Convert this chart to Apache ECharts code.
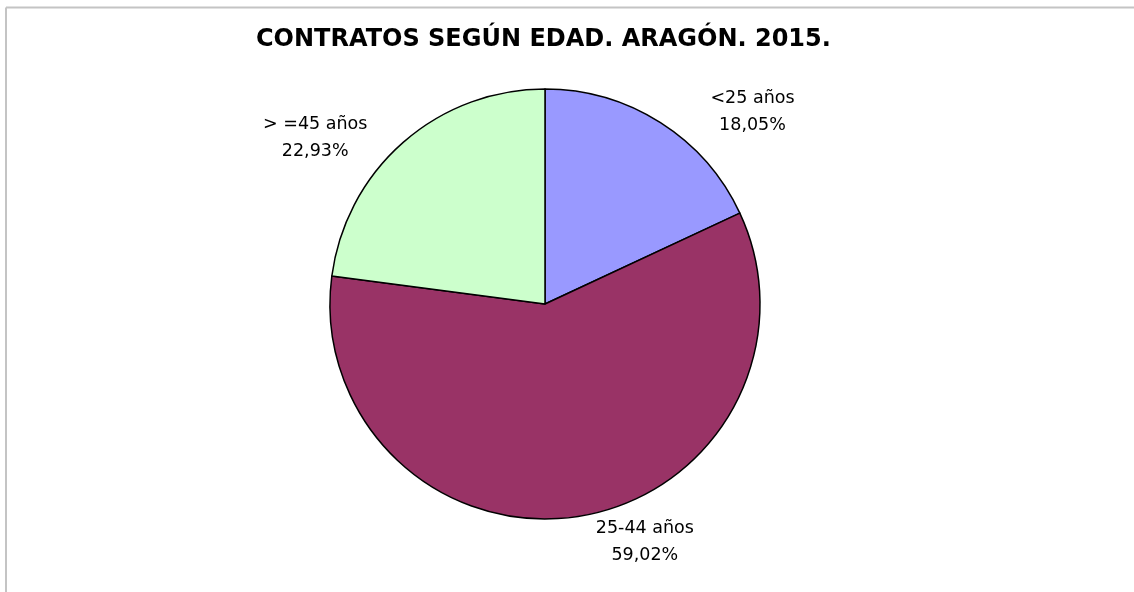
<!DOCTYPE html>
<html>
<head>
<meta charset="utf-8">
<script src="https://cdn.jsdelivr.net/npm/echarts@6/dist/echarts.min.js"></script>
<style>
html,body{margin:0;padding:0;background:#fff;}
#chart{width:1134px;height:592px;}
</style>
</head>
<body>
<div id="chart"></div>
<script>
var titleText = 'CONTRATOS SEGÚN EDAD. ARAGÓN. 2015.';
var categories = ['<25 años', '25-44 años', '> =45 años'];
var values = [18.05, 59.02, 22.93];
var colors = ['#9999FF', '#993366', '#CCFFCC'];

var labelOffsets = [[87, -11], [62, 25], [-83, -4]];
var FONT = '"DejaVu Sans", Verdana, sans-serif';

var chart = echarts.init(document.getElementById('chart'), null, {renderer: 'canvas'});
chart.setOption({
  backgroundColor: '#fff',
  animation: false,
  title: {
    text: titleText,
    left: 251,
    top: 23,
    textStyle: {fontFamily: FONT, fontWeight: 'bold', fontSize: 24, color: '#000'}
  },
  graphic: [
    {type: 'line', shape: {x1: 6, y1: 7.5, x2: 1134, y2: 7.5}, style: {stroke: '#c4c4c4', lineWidth: 2}},
    {type: 'line', shape: {x1: 6, y1: 7.5, x2: 6, y2: 592}, style: {stroke: '#c4c4c4', lineWidth: 2}}
  ],
  series: [{
    type: 'pie',
    center: [545, 304],
    radius: 215,
    startAngle: 90,
    clockwise: true,
    data: categories.map(function (c, i) {
      return {name: c, value: values[i], itemStyle: {color: colors[i]}};
    }),
    itemStyle: {borderColor: '#000', borderWidth: 1.5},
    emphasis: {disabled: true},
    label: {
      show: true,
      position: 'outside',
      formatter: function (p) {
        return p.name + '\n' + p.value.toFixed(2).replace('.', ',') + '%';
      },
      fontFamily: FONT,
      fontSize: 17.5,
      lineHeight: 27,
      color: '#000',
      distanceToLabelLine: 5
    },
    labelLine: {show: false, length: 0, length2: 0},
    labelLayout: function (params) {
      var o = labelOffsets[params.dataIndex];
      return {align: 'center', dx: o[0], dy: o[1]};
    }
  }]
});
</script>
</body>
</html>
